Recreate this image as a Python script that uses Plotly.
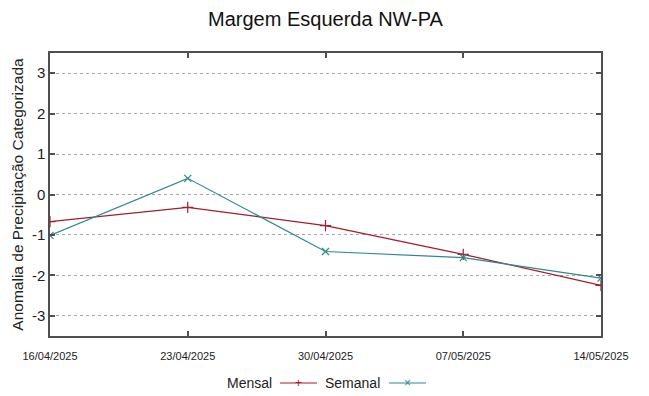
import plotly.graph_objects as go

dates = ["2025-04-16", "2025-04-23", "2025-04-30", "2025-05-07", "2025-05-14"]
tick_labels = ["16/04/2025", "23/04/2025", "30/04/2025", "07/05/2025", "14/05/2025"]
mensal = [-0.67, -0.32, -0.77, -1.48, -2.25]
semanal = [-1.01, 0.40, -1.41, -1.56, -2.07]
y_ticks = [-3, -2, -1, 0, 1, 2, 3]
y_tick_labels = ["-3", "-2", "-1", "0", "1", "2", "3"]

RED = "#a51c2a"
TEAL = "#2e8a8a"
FONT = "Liberation Sans, Arial, sans-serif"
AXC = "#505050"

fig = go.Figure()
fig.add_trace(go.Scatter(x=dates, y=mensal, mode="lines+markers", name="Mensal",
                         line=dict(color=RED, width=1.2),
                         marker=dict(symbol="cross-thin", size=8, line=dict(color=RED, width=1.2))))
fig.add_trace(go.Scatter(x=dates, y=semanal, mode="lines+markers", name="Semanal",
                         line=dict(color=TEAL, width=1.2),
                         marker=dict(symbol="x-thin", size=7, line=dict(color=TEAL, width=1.2))))

W, H = 649, 396
L, R, T, B = 50, 48, 53, 60

def px(x):
    return (x - L) / (W - L - R)

def py(y):
    return (H - B - y) / (H - T - B)

ly = 383
annotations = [
    dict(text="Mensal", x=px(274), y=py(ly), xref="paper", yref="paper", xanchor="right",
         yanchor="middle", showarrow=False, font=dict(family=FONT, size=14, color="#222")),
    dict(text="Semanal", x=px(382), y=py(ly), xref="paper", yref="paper", xanchor="right",
         yanchor="middle", showarrow=False, font=dict(family=FONT, size=14, color="#222")),
    dict(text="+", x=px(298.5), y=py(ly), xref="paper", yref="paper", xanchor="center",
         yanchor="middle", showarrow=False, font=dict(family=FONT, size=12, color=RED)),
    dict(text="×", x=px(407.5), y=py(ly), xref="paper", yref="paper", xanchor="center",
         yanchor="middle", showarrow=False, font=dict(family=FONT, size=12, color=TEAL)),
]
shapes = [
    dict(type="line", xref="paper", yref="paper", x0=px(280), x1=px(317), y0=py(ly), y1=py(ly),
         line=dict(color=RED, width=1.2)),
    dict(type="line", xref="paper", yref="paper", x0=px(389), x1=px(426), y0=py(ly), y1=py(ly),
         line=dict(color=TEAL, width=1.2)),
]

fig.update_layout(
    width=W, height=H,
    margin=dict(l=L, r=R, t=T, b=B, autoexpand=False),
    paper_bgcolor="white", plot_bgcolor="white",
    showlegend=False,
    title=dict(text="Margem Esquerda NW-PA", x=0.5, xref="paper", xanchor="center",
               y=1 - 19 / H, yref="container", yanchor="middle",
               font=dict(family=FONT, size=20, color="#111")),
    font=dict(family=FONT, color="#222"),
    annotations=annotations,
    shapes=shapes,
)
fig.update_xaxes(
    type="date", range=[dates[0], dates[-1]],
    tickvals=dates, ticktext=tick_labels,
    tickfont=dict(family=FONT, size=11, color="#222"),
    ticklabelstandoff=9,
    showgrid=False, zeroline=False, automargin=False,
    showline=True, linecolor=AXC, linewidth=1.5, mirror="ticks",
    ticks="inside", ticklen=5, tickcolor=AXC, tickwidth=1.5,
)
fig.update_yaxes(
    range=[-3.5, 3.5], tickvals=y_ticks, ticktext=y_tick_labels,
    tickfont=dict(family=FONT, size=15, color="#222"),
    title=dict(text="Anomalia de Precipitação Categorizada", font=dict(family=FONT, size=15.5, color="#222"),
               standoff=4),
    showgrid=True, gridcolor="#a8a8a8", griddash="dot", gridwidth=1,
    zeroline=False, automargin=False,
    showline=True, linecolor=AXC, linewidth=1.5, mirror="ticks",
    ticks="inside", ticklen=5, tickcolor=AXC, tickwidth=1.5,
)

fig.write_html("out.html", config=dict(displayModeBar=False),
               post_script="document.body.style.margin='0';")
